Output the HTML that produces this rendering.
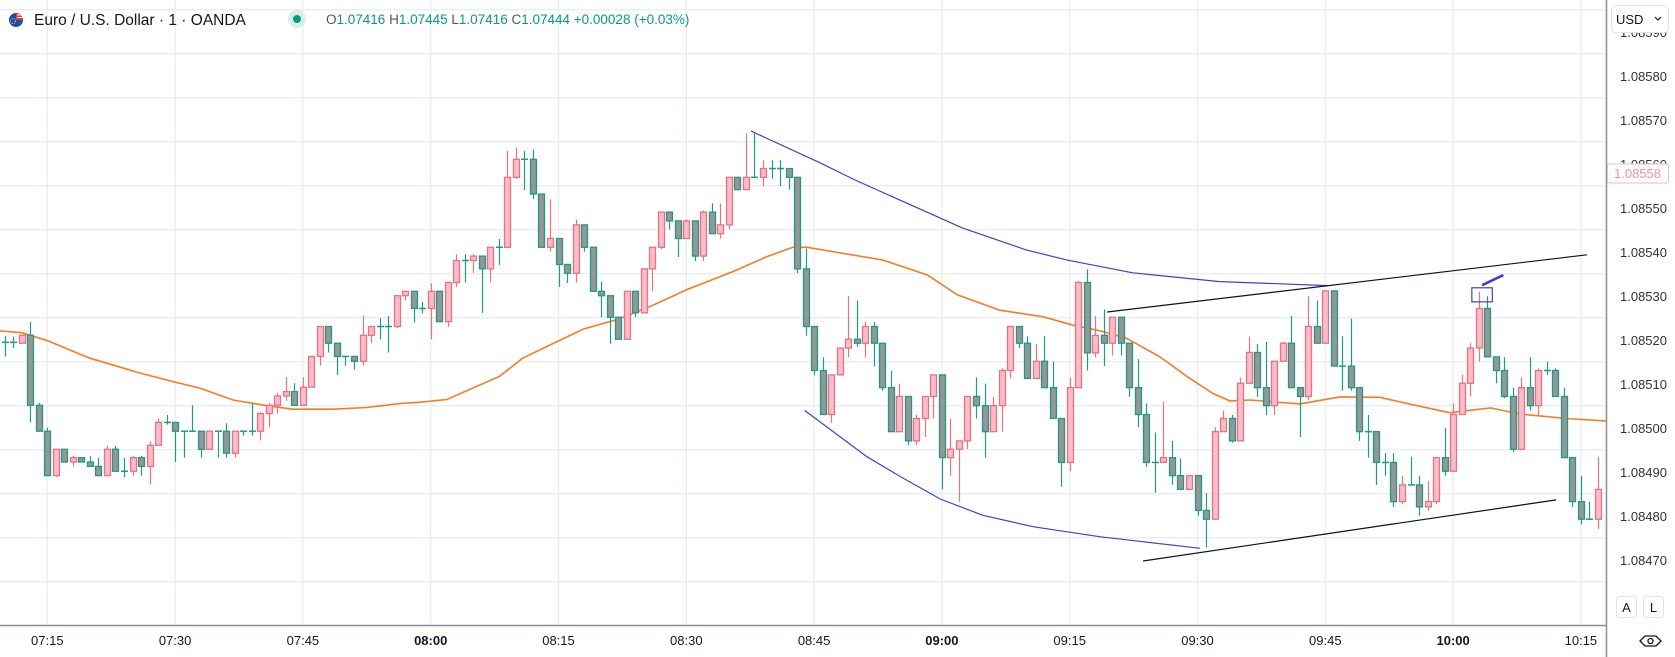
<!DOCTYPE html>
<html><head><meta charset="utf-8"><style>
html,body{margin:0;padding:0;background:#fff;}
svg{display:block;font-family:"Liberation Sans",sans-serif;}
</style></head><body>
<svg id="chart" width="1675" height="657" viewBox="0 0 1675 657" xmlns="http://www.w3.org/2000/svg">
<rect x="0" y="0" width="1675" height="657" fill="#ffffff"/>
<g id="grid"></g>
<g id="ema"></g>
<g id="candles"></g>
<g id="drawings"></g>
<line x1="0" y1="625.5" x2="1606" y2="625.5" stroke="#8a8e99" stroke-width="1.5"/>
<line x1="1606.5" y1="0" x2="1606.5" y2="657" stroke="#8a8e99" stroke-width="1.5"/>
<g id="yaxis"></g>
<g id="xaxis"></g>
<g>
  <g>
    <circle cx="16" cy="20" r="7" fill="#1f4aa8"/>
    <path d="M16 13 A7 7 0 0 1 23 20 L16 20 Z" fill="#e53935"/>
    <path d="M17 15 L22 15 M17 17.5 L23 17.5" stroke="#fff" stroke-width="1"/>
    <circle cx="13" cy="21" r="2.5" fill="none" stroke="#ffd54f" stroke-width="0.9" stroke-dasharray="1 1"/>
  </g>
  <text x="34" y="25" font-size="15.5" fill="#131722">Euro / U.S. Dollar · 1 · OANDA</text>
  <circle cx="297" cy="19" r="9" fill="#d7f0ea"/>
  <circle cx="297" cy="19" r="4" fill="#089981"/>
  <text x="326" y="24" font-size="13.5"><tspan fill="#555">O</tspan><tspan fill="#089981">1.07416 </tspan><tspan fill="#555">H</tspan><tspan fill="#089981">1.07445 </tspan><tspan fill="#555">L</tspan><tspan fill="#089981">1.07416 </tspan><tspan fill="#555">C</tspan><tspan fill="#089981">1.07444 +0.00028 (+0.03%)</tspan></text>
</g>
<g>
  <rect x="1611.5" y="5.5" width="57" height="27" rx="4" fill="#fff" stroke="#e0e3eb"/>
  <text x="1616" y="24" font-size="13" fill="#131722">USD</text>
  <path d="M1655 17 L1658 20 L1661 17" fill="none" stroke="#131722" stroke-width="1.2"/>
</g>
<g>
  <rect x="1616.5" y="596.5" width="20" height="21" rx="3" fill="#fff" stroke="#e0e3eb"/>
  <text x="1626.5" y="612" font-size="13" fill="#131722" text-anchor="middle">A</text>
</g>
<g>
  <rect x="1643.5" y="596.5" width="20" height="21" rx="3" fill="#fff" stroke="#e0e3eb"/>
  <text x="1653.5" y="612" font-size="13" fill="#131722" text-anchor="middle">L</text>
</g>
<g>
  <path d="M1640 641 L1645 636 L1656 636 L1661 641 L1656 646 L1645 646 Z" fill="none" stroke="#131722" stroke-width="1.3"/>
  <circle cx="1650.5" cy="641" r="2.5" fill="none" stroke="#131722" stroke-width="1.3"/>
</g>
</svg>
<script>
// values in pipettes (1e-5) above BASE price
const BASE = 1.08400;
const opens  = [124.4,124.4,124.2,126.0,110.1,104.2,94.1,100.1,97.2,98.2,97.2,96.2,94.1,100.1,95.1,95.1,98.2,96.2,101.0,106.2,106.2,104.2,104.2,104.2,100.1,104.2,104.2,99.2,104.2,104.2,104.2,108.2,110.1,112.2,113.2,110.1,114.2,121.2,128.0,124.2,121.2,121.2,120.1,126.0,128.0,128.0,128.0,135.0,136.0,132.1,132.1,136.0,129.1,138.0,143.0,143.0,144.0,141.1,146.0,146.0,161.9,166.0,166.0,158.1,146.0,148.0,142.1,140.1,151.1,146.0,136.0,135.0,130.1,125.1,136.0,131.1,141.1,146.0,154.0,152.0,148.0,152.0,144.0,154.0,149.1,151.1,161.9,159.1,161.9,161.9,163.9,163.9,163.9,161.9,141.1,128.0,118.0,108.0,117.0,123.1,125.1,124.2,128.0,124.2,114.1,104.1,112.1,102.0,107.1,112.1,117.0,98.2,100.1,102.0,112.1,110.0,104.1,110.0,118.0,128.0,124.2,116.2,120.1,114.1,107.1,97.1,114.1,138.0,122.0,126.0,124.2,130.1,124.2,114.1,108.0,97.1,97.1,98.2,94.1,91.0,94.1,86.2,84.2,104.1,107.1,102.0,115.1,122.1,114.1,110.0,120.1,124.2,114.1,112.1,128.0,124.2,136.1,119.0,119.0,114.1,104.1,104.1,97.1,97.1,88.2,92.0,92.0,87.0,88.2,98.2,95.1,108.0,115.1,123.1,132.1,121.1,118.0,112.1,100.1,114.1,110.0,118.0,118.0,112.1,98.2,88.2,84.2,84.2];
const highs  = [125.9,125.7,126.0,129.0,110.6,105.0,100.1,100.1,98.6,98.2,98.5,98.1,100.9,100.9,98.1,98.6,98.6,101.9,107.1,107.9,106.2,104.2,110.1,104.2,104.2,104.2,106.0,104.2,104.2,110.6,108.6,110.6,112.9,116.5,115.1,116.5,121.2,128.0,128.0,124.2,121.2,121.2,130.4,128.0,129.9,130.4,135.0,136.0,136.0,133.6,137.8,136.0,138.0,144.4,144.4,144.4,144.0,146.0,147.9,167.9,168.7,167.9,168.2,158.1,156.9,148.0,142.1,152.3,151.1,146.0,138.2,135.0,130.1,136.0,136.0,141.1,146.0,154.0,154.0,152.0,152.3,152.0,154.4,156.0,156.0,161.9,161.9,171.9,171.9,165.8,165.8,165.8,163.9,161.9,145.7,128.0,121.0,117.0,123.1,134.9,133.9,129.1,129.0,124.2,117.9,115.0,112.1,107.9,112.1,117.0,117.0,107.0,102.0,112.1,116.4,115.0,112.0,118.5,128.0,128.0,125.8,124.0,125.8,120.0,107.1,116.4,138.3,141.0,130.4,131.9,130.1,130.1,124.2,120.6,110.5,103.9,110.9,102.0,98.0,94.1,94.1,90.1,105.1,108.9,107.9,116.4,125.7,124.0,124.5,120.1,124.5,130.4,114.1,134.9,133.9,136.1,136.1,125.8,129.8,114.1,107.9,104.1,99.2,99.2,94.0,98.4,94.0,92.9,98.2,105.0,110.5,117.0,124.2,135.9,134.9,121.1,121.0,114.1,116.4,121.0,118.5,120.0,118.5,114.1,98.2,94.0,88.2,98.4];
const lows   = [121.2,123.1,124.2,106.2,104.2,94.1,93.8,97.2,96.2,97.2,96.2,94.1,94.1,95.1,93.8,94.1,94.1,92.1,101.0,105.7,97.2,98.2,104.2,98.2,100.1,98.2,98.2,98.2,103.2,103.2,102.1,105.1,108.2,111.1,110.1,110.1,114.2,119.1,122.1,117.0,119.1,118.2,119.1,124.2,125.1,122.1,127.6,133.9,128.9,131.0,125.1,129.1,127.9,137.0,138.0,140.1,131.1,138.0,142.0,146.0,161.6,159.0,157.0,146.0,145.0,137.0,137.9,138.0,145.0,136.0,130.1,124.1,125.1,125.1,130.1,131.1,136.0,145.5,150.1,143.8,148.0,142.9,142.9,149.1,148.0,150.1,159.1,159.1,161.9,159.9,161.6,159.9,159.1,140.1,125.9,116.9,108.0,106.1,117.0,121.0,123.4,121.0,118.9,113.4,104.1,104.1,101.0,101.0,102.9,107.1,91.0,94.1,88.2,100.1,107.1,98.2,104.1,104.1,116.2,123.1,116.2,116.2,114.1,107.1,91.6,95.1,114.1,118.0,121.0,119.0,121.4,121.4,112.0,105.1,96.1,90.2,97.1,92.0,91.0,91.0,85.0,77.8,84.2,104.1,101.6,102.0,115.1,112.0,107.9,107.9,120.1,114.1,102.9,111.3,124.2,124.2,119.0,113.4,113.4,102.0,98.2,92.0,94.1,87.0,87.6,92.0,85.0,86.1,87.6,94.1,95.1,108.0,112.1,120.0,121.1,115.1,111.7,99.5,100.1,108.9,107.9,117.0,112.1,98.2,87.0,83.0,84.2,82.0];
const closes = [124.4,124.4,126.0,110.1,104.2,94.1,100.1,97.2,98.2,97.2,96.2,94.1,100.1,95.1,95.1,98.2,96.2,101.0,106.2,106.2,104.2,104.2,104.2,100.1,104.2,104.2,99.2,104.2,104.2,104.2,108.2,110.1,112.2,113.2,110.1,114.2,121.2,128.0,124.2,121.2,121.2,120.1,126.0,128.0,128.0,128.0,135.0,136.0,132.1,132.1,136.0,129.1,138.0,143.0,143.0,144.0,141.1,146.0,146.0,161.9,166.0,166.0,158.1,146.0,148.0,142.1,140.1,151.1,146.0,136.0,135.0,130.1,125.1,136.0,131.1,141.1,146.0,154.0,152.0,148.0,152.0,144.0,154.0,149.1,151.1,161.9,159.1,161.9,161.9,163.9,163.9,163.9,161.9,141.1,128.0,118.0,108.0,117.0,123.1,125.1,124.2,128.0,124.2,114.1,104.1,112.1,102.0,107.1,112.1,117.0,98.2,100.1,102.0,112.1,110.0,104.1,110.0,118.0,128.0,124.2,116.2,120.1,114.1,107.1,97.1,114.1,138.0,122.0,126.0,124.2,130.1,124.2,114.1,108.0,97.1,97.1,98.2,94.1,91.0,94.1,86.2,84.2,104.1,107.1,102.0,115.1,122.1,114.1,110.0,120.1,124.2,114.1,112.1,128.0,124.2,136.1,119.0,119.0,114.1,104.1,104.1,97.1,97.1,88.2,92.0,92.0,87.0,88.2,98.2,95.1,108.0,115.1,123.1,132.1,121.1,118.0,112.1,100.1,114.1,110.0,118.0,118.0,112.1,98.2,88.2,84.2,84.2,91.0];
// moving average: candle index (minutes from 07:10) and value
const emaIdx = [-0.6,2.0,5.0,10.0,15.9,19.7,22.9,26.8,30.8,33.8,38.5,42.5,46.4,48.8,51.9,58.1,60.8,64.0,67.9,71.9,75.7,80.1,85.5,89.5,92.5,94.2,95.7,103.1,108.3,111.8,116.8,121.9,125.4,128.6,131.7,135.6,138.8,141.8,143.8,146.2,152.0,156.7,161.4,165.3,169.6,174.4,177.9,183.4,188.0];
const emaVal = [127.0,126.6,124.8,120.8,117.4,115.5,114.0,111.3,110.0,109.2,109.2,109.6,110.5,110.8,111.4,116.7,120.8,123.8,127.4,129.6,132.5,136.4,140.5,143.9,146.0,146.0,145.5,143.1,139.7,135.2,131.7,130.2,128.3,127.0,125.3,121.1,116.6,112.8,111.1,111.3,110.4,112.0,111.9,110.2,108.4,109.5,108.1,107.1,106.5];
// drawing anchors (candle index / value)
const blueUpIdx = [87.6,95.7,99.8,112.4,119.9,124.7,132.4,142.6,149.7,155.3];
const blueUpVal = [172.4,165.2,161.3,150.4,145.4,143.1,140.2,138.2,137.7,137.3];
const blueLoIdx = [93.9,101.2,105.1,109.8,114.8,120.7,128.6,140.3];
const blueLoVal = [108.9,98.4,93.9,88.8,85.1,82.5,80.2,77.6];
const blackUpIdx = [129.4,185.7], blackUpVal = [131.3,144.3];
const blackLoIdx = [133.6,182.1], blackLoVal = [74.7,88.6];
const priceTicks = [190,180,170,160,150,140,130,120,110,100,90,80,70];
const timeTicks = ["07:15","07:30","07:45","08:00","08:15","08:30","08:45","09:00","09:15","09:30","09:45","10:00","10:15"];
const timeTickIdx = [5,20,35,50,65,80,95,110,125,140,155,170,185];
const boldTicks = ["08:00","09:00","10:00"];
const lastPrice = 158;

const NS = "http://www.w3.org/2000/svg";
const xOf = i => 4.7 + 8.52 * i;
const yOf = v => 97.7 + (180 - v) * 4.4;
function mk(tag, attrs, parent) {
  const e = document.createElementNS(NS, tag);
  for (const k in attrs) e.setAttribute(k, attrs[k]);
  parent.appendChild(e);
  return e;
}
const grid = document.getElementById('grid');
for (let v = 200; v >= 60; v -= 10) {
  const l = mk('line', {x1: 0, x2: 1606, y1: yOf(v), y2: yOf(v), stroke: '#e9eef3', 'stroke-width': 1.3}, grid);
  
  
}
timeTickIdx.forEach(i => {
  const l = mk('line', {x1: xOf(i), x2: xOf(i), y1: 0, y2: 625, stroke: '#e9eef3', 'stroke-width': 1.3}, grid);
  
  
});

const ema = document.getElementById('ema');
const ep = mk('polyline', {points: emaIdx.map((i, k) => xOf(i).toFixed(1) + ',' + yOf(emaVal[k]).toFixed(1)).join(' '), fill: 'none', stroke: '#f57c22', 'stroke-width': 1.6}, ema);



const cg = document.getElementById('candles');
opens.forEach((o, i) => {
  const c = closes[i], h = highs[i], l = lows[i];
  const up = c > o, doji = c === o;
  const stroke = up ? '#e8737f' : '#1f9a88';
  const fill = up ? '#f8bccb' : '#969696';
  const cx = Math.round(xOf(i)) + 0.5;
  const g = mk('g', {}, cg);
  
  
  mk('line', {x1: cx, x2: cx, y1: yOf(h), y2: yOf(l), stroke: stroke, 'stroke-width': 1.2}, g);
  if (doji) {
    mk('line', {x1: cx - 3.5, x2: cx + 3.5, y1: yOf(c), y2: yOf(c), stroke: stroke, 'stroke-width': 1.5}, g);
  } else {
    const yt = yOf(Math.max(o, c)), yb = yOf(Math.min(o, c));
    mk('rect', {x: cx - 3, y: yt, width: 6, height: Math.max(1, yb - yt), fill: fill, stroke: stroke, 'stroke-width': 1.3}, g);
  }
});

const dg = document.getElementById('drawings');
function poly(ix, vals, color, w, name) {
  const p = mk('polyline', {points: ix.map((i, k) => xOf(i).toFixed(1) + ',' + yOf(vals[k]).toFixed(1)).join(' '), fill: 'none', stroke: color, 'stroke-width': w}, dg);
  
  
}
poly(blueUpIdx, blueUpVal, '#3f3fd0', 1.2, 'upper-curve-drawing');
poly(blueLoIdx, blueLoVal, '#3f3fd0', 1.2, 'lower-curve-drawing');
poly(blackUpIdx, blackUpVal, '#111', 1.2, 'upper-trendline');
poly(blackLoIdx, blackLoVal, '#111', 1.2, 'lower-trendline');
const rb = mk('rect', {x: xOf(172.2), y: yOf(136.8), width: xOf(174.6) - xOf(172.2), height: yOf(133.6) - yOf(136.8), fill: 'none', stroke: '#3f3fd0', 'stroke-width': 1.2}, dg);


const mkr = mk('line', {x1: xOf(173.4), y1: yOf(137.4), x2: xOf(175.9), y2: yOf(139.7), stroke: '#3f3fd0', 'stroke-width': 2.6}, dg);



const ya = document.getElementById('yaxis');
priceTicks.forEach(v => {
  const t = mk('text', {x: 1620, y: yOf(v) - 21 + 4.5, 'font-size': 13, fill: '#333'}, ya);
  t.textContent = (BASE + v / 100000).toFixed(5);
  
  
});
const ly = yOf(lastPrice) - 21;
const lb = mk('rect', {x: 1607.5, y: ly - 9.5, width: 61, height: 19, fill: '#fff', stroke: '#f7b6c4', rx: 2}, ya);


const lt = mk('text', {x: 1614, y: ly + 4.5, 'font-size': 13, fill: '#f48fa6'}, ya);
lt.textContent = (BASE + lastPrice / 100000).toFixed(5);



const xa = document.getElementById('xaxis');
timeTicks.forEach((s, k) => {
  const t = mk('text', {x: xOf(timeTickIdx[k]), y: 645, 'font-size': 13, fill: '#131722', 'text-anchor': 'middle', 'font-weight': boldTicks.includes(s) ? 'bold' : 'normal'}, xa);
  t.textContent = s;
  
  
});
</script>
</body></html>
